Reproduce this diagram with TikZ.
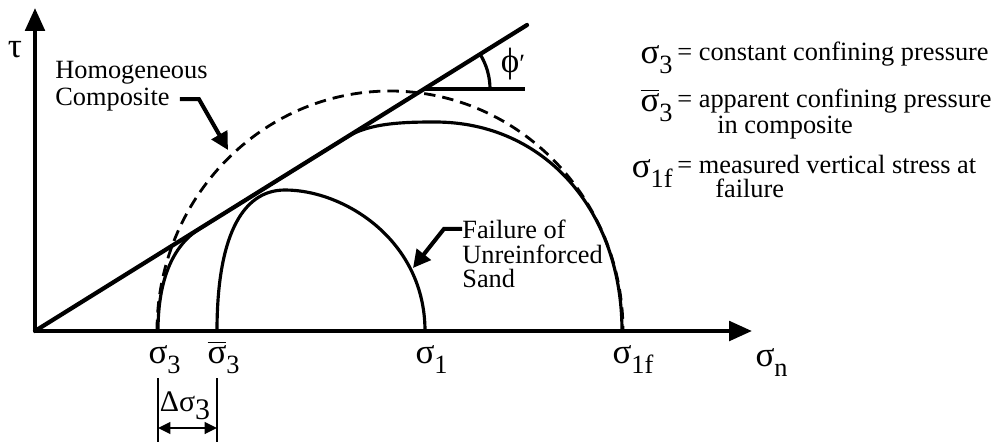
\documentclass[tikz,border=0pt]{standalone}
\usepackage{fontspec}
\setmainfont{Liberation Serif}
\usepackage{tikz}
\usetikzlibrary{arrows.meta,positioning,calc}

\newcommand{\gk}[1]{{\fontsize{20}{20}\selectfont #1}}
\newcommand{\sgsub}[1]{\raisebox{-6pt}{#1}}

\begin{document}
\begin{tikzpicture}[x=0.02cm,y=0.02cm,
    >={Triangle[length=13pt,width=11pt]},
    axis/.style={->,line width=2.3pt},
    envelope/.style={line width=2.4pt,line cap=round},
    mohr/.style={line width=1.8pt},
    composite/.style={line width=1.6pt,dash pattern=on 6.5pt off 4pt},
    callout/.style={-{Triangle[length=10pt,width=10pt]},line width=2.3pt},
    dimline/.style={line width=1.6pt},
    dimarrow/.style={{Triangle[length=7pt,width=6.5pt]}-{Triangle[length=7pt,width=6.5pt]},line width=1.6pt},
    txt/.style={font=\fontsize{15}{15}\selectfont,inner sep=0pt},
    axlabel/.style={font=\fontsize{15}{15}\selectfont,inner sep=0pt,anchor=base}
  ]
  \useasboundingbox (-35,-113) rectangle (958,331);

  \coordinate (O) at (0,0);
  \coordinate (tauend) at (0,323);
  \coordinate (snend) at (717,0);
  \coordinate (s3) at (123,0);
  \coordinate (s3b) at (182,0);
  \coordinate (s1) at (390,0);
  \coordinate (s1f) at (587,0);
  \coordinate (envend) at (492,306);
  \coordinate (phic) at (389,242);
  \coordinate (phiend) at (490,242);

  \draw[composite] (122,0) arc[start angle=180,end angle=0,x radius=233,y radius=240];
  \draw[mohr] (s3) .. controls (123,55) and (140,87) .. (165,102.6)
    -- (312,194) .. controls (335,208.3) and (370,209) .. (400,209)
    .. controls (510,209) and (587,120) .. (s1f);
  \draw[mohr] (s3b) .. controls (182,90) and (205,141) .. (250,141)
    .. controls (310,141) and (390,90) .. (s1);
  \draw[envelope] (O) -- (envend);
  \draw[mohr] (phic) -- (phiend);
  \draw[mohr] ($(phic)+(66,0)$) arc[start angle=0,end angle=31.9,radius=66];
  \node[axlabel] (phi) at (478,259) {\gk{ϕ}′};

  \draw[axis] (O) -- (tauend);
  \draw[axis] (O) -- (snend);

  \node[axlabel] (tau) at (-20,274) {\gk{τ}};
  \node[axlabel] (ls3) at (s3 |- 0,-32) {\gk{σ}\rlap{\sgsub{3}}};
  \node[axlabel] (ls3b) at (s3b |- 0,-32) {\gk{$\overline{\mbox{σ}}$}\rlap{\sgsub{3}}};
  \node[axlabel] (ls1) at (s1 |- 0,-32) {\gk{σ}\rlap{\sgsub{1}}};
  \node[axlabel] (ls1f) at (s1f |- 0,-32) {\gk{σ}\rlap{\sgsub{1f}}};
  \node[axlabel] (lsn) at (730,-35) {\gk{σ}\rlap{\sgsub{n}}};

  \coordinate (dimla) at (123,-47);
  \coordinate (dimlb) at (123,-111);
  \coordinate (dimra) at (182,-47);
  \coordinate (dimrb) at (182,-111);
  \coordinate (dimal) at (123,-97);
  \coordinate (dimar) at (182,-97);
  \draw[dimline] (dimla) -- (dimlb);
  \draw[dimline] (dimra) -- (dimrb);
  \draw[dimarrow] (dimal) -- (dimar);
  \node[axlabel] (dsig) at (150,-80) {\fontsize{17}{17}\selectfont Δσ\raisebox{-5pt}{3}};

  \node[txt,anchor=base west] (homog) at (20,253) {Homogeneous};
  \node[txt,anchor=base west] (comp) at (20,226) {Composite};
  \coordinate (homtip) at (193,181);
  \draw[callout] ($(comp.east)+(10,0)$) -- ++(19,0) -- (homtip);

  \node[txt,anchor=base west] (fail1) at (427,93) {Failure of};
  \node[txt,anchor=base west] (fail2) at (427,68) {Unreinforced};
  \node[txt,anchor=base west] (fail3) at (427,44) {Sand};
  \coordinate (failtip) at (378,63);
  \draw[callout] (fail1.west) -- ++(-18,0) -- (failtip);

  \node[txt,anchor=base west] (leg1) at (642,271) {= constant confining pressure};
  \node[txt,anchor=base east] (leg1s) at (638,268) {\gk{σ}\sgsub{3}};
  \node[txt,anchor=base west] (leg2) at (642,224) {= apparent confining pressure};
  \node[txt,anchor=base east] (leg2s) at (638,220) {\gk{$\overline{\mbox{σ}}$}\sgsub{3}};
  \node[txt,anchor=base west] (leg2b) at (682,198) {in composite};
  \node[txt,anchor=base west] (leg3) at (642,158) {= measured vertical stress at};
  \node[txt,anchor=base east] (leg3s) at (638,154) {\gk{σ}\sgsub{1f}};
  \node[txt,anchor=base west] (leg3b) at (680,134) {failure};
\end{tikzpicture}
\end{document}
